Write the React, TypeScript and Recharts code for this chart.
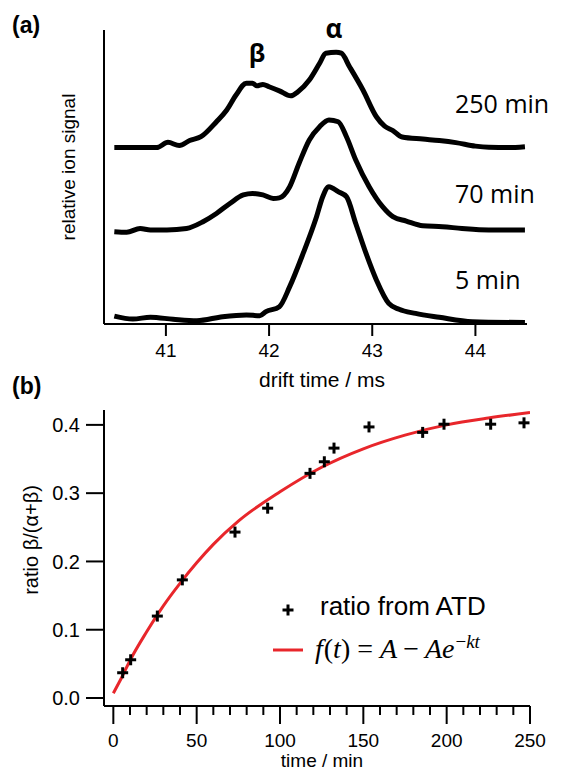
import React from "react";
import {
  LineChart,
  ComposedChart,
  Line,
  Scatter,
  XAxis,
  YAxis,
  Legend
} from "recharts";

// (a) arrival time distributions, one trace per storage time
const driftTime250 = [40.5, 40.91, 41.02, 41.13, 41.23, 41.34, 41.49, 41.59, 41.68, 41.78, 41.84, 41.88, 41.94, 42.0, 42.1, 42.21, 42.28, 42.39, 42.49, 42.55, 42.65, 42.7, 42.78, 42.91, 43.04, 43.12, 43.2, 43.29, 43.49, 43.65, 43.81, 44.0, 44.13, 44.32, 44.48];
const signal250 = [60.0, 60.0, 61.8, 60.7, 62.4, 63.7, 68.8, 72.8, 77.9, 81.9, 81.9, 81.0, 81.5, 80.7, 79.3, 77.6, 79.0, 83.0, 88.7, 92.1, 92.4, 92.1, 87.5, 79.6, 70.5, 67.3, 65.8, 63.6, 62.9, 62.4, 61.7, 60.5, 60.1, 60.0, 60.3];

const driftTime70 = [40.5, 40.62, 40.75, 40.85, 41.01, 41.2, 41.36, 41.49, 41.62, 41.75, 41.84, 41.94, 42.04, 42.1, 42.2, 42.29, 42.39, 42.49, 42.58, 42.67, 42.75, 42.84, 42.97, 43.1, 43.2, 43.33, 43.49, 43.68, 43.87, 44.13, 44.48];
const signal70 = [31.4, 31.2, 32.5, 32.0, 32.0, 32.5, 34.8, 37.6, 41.0, 43.9, 44.4, 43.9, 42.7, 42.9, 46.7, 54.6, 62.6, 67.1, 69.4, 68.8, 63.7, 55.8, 46.7, 39.9, 36.5, 35.0, 33.4, 33.1, 32.5, 32.0, 32.0];

const driftTime5 = [40.5, 40.68, 40.85, 41.07, 41.3, 41.55, 41.78, 41.91, 41.97, 42.1, 42.2, 42.33, 42.46, 42.52, 42.58, 42.67, 42.75, 42.84, 42.94, 43.04, 43.16, 43.26, 43.42, 43.65, 43.97, 44.48];
const signal5 = [2.7, 1.7, 2.3, 1.6, 1.1, 2.5, 3.1, 2.8, 4.2, 5.9, 12.7, 24.0, 36.5, 43.3, 46.7, 45.0, 43.3, 34.2, 24.0, 15.0, 7.0, 5.0, 3.6, 2.3, 0.8, 0.5];

const driftTicks = [41, 42, 43, 44];

// (b) beta fraction vs time
const sampleTime = [5.6, 10.4, 26.4, 41.4, 73.0, 92.6, 118.0, 126.6, 132.4, 153.4, 185.6, 198.4, 226.4, 246.4];
const ratioATD = [0.037, 0.056, 0.12, 0.173, 0.243, 0.278, 0.329, 0.346, 0.366, 0.397, 0.389, 0.401, 0.401, 0.403];

const fitTime = [0, 5, 10, 20, 30, 40, 50, 60, 75, 100, 125, 150, 175, 200, 225, 250];
const fitRatio = [0.007, 0.03, 0.055, 0.097, 0.135, 0.168, 0.198, 0.225, 0.259, 0.302, 0.338, 0.365, 0.385, 0.4, 0.41, 0.418];

const timeMajorTicks = [0, 50, 100, 150, 200, 250];
const timeMinorTicks = [10, 20, 30, 40, 60, 70, 80, 90, 110, 120, 130, 140, 160, 170, 180, 190, 210, 220, 230, 240];
const ratioTicks = [0, 0.1, 0.2, 0.3, 0.4];

const SANS = "'Liberation Sans', Arial, Helvetica, sans-serif";
const SERIF = "'Liberation Serif', 'Times New Roman', serif";
const RED = "#e8262b";

const toRows = (xs: number[], ys: number[]) => xs.map((x, i) => ({ x, y: ys[i] }));
const trace250 = toRows(driftTime250, signal250);
const trace70 = toRows(driftTime70, signal70);
const trace5 = toRows(driftTime5, signal5);
const points = toRows(sampleTime, ratioATD);
const fitRows = toRows(fitTime, fitRatio);

const PlusMark = (props: any) => {
  const { cx, cy } = props;
  if (cx == null || cy == null) return null;
  const h = 5.5;
  return (
    <g stroke="#000" strokeWidth={3}>
      <line x1={cx - h} y1={cy} x2={cx + h} y2={cy} />
      <line x1={cx} y1={cy - h} x2={cx} y2={cy + h} />
    </g>
  );
};

const TimeTick = (props: any) => {
  const { x, y, payload } = props;
  const major = timeMajorTicks.includes(payload.value);
  return (
    <g>
      <line x1={x} y1={y} x2={x} y2={y + (major ? 18 : 9)} stroke="#000" strokeWidth={2} />
      {major && (
        <text x={x} y={y + 41} textAnchor="middle" fontSize={19} fontFamily={SANS} fill="#000">
          {payload.value}
        </text>
      )}
    </g>
  );
};

const FitLegend = () => (
  <svg width={260} height={80} style={{ display: "block" }}>
    <PlusMark cx={18} cy={20} />
    <text x={50} y={25} fontSize={26} fontFamily={SANS} fill="#000">
      ratio from ATD
    </text>
    <line x1={3} y1={60} x2={33} y2={60} stroke={RED} strokeWidth={3} />
    <text x={45} y={68} fontSize={28} fontFamily={SERIF} fill="#000">
      <tspan fontStyle="italic">f</tspan>
      <tspan dx={1}>(</tspan>
      <tspan fontStyle="italic">t</tspan>
      <tspan>)</tspan>
      <tspan dx={7}>=</tspan>
      <tspan dx={7} fontStyle="italic">A</tspan>
      <tspan dx={6}>−</tspan>
      <tspan dx={6} fontStyle="italic">Ae</tspan>
      <tspan fontSize={19} dy={-10} dx={1}>−</tspan>
      <tspan fontSize={19} fontStyle="italic">kt</tspan>
    </text>
  </svg>
);

export default function App() {
  const axisLine = { stroke: "#000", strokeWidth: 2 };
  return (
    <div style={{ position: "absolute", left: 0, top: 0, width: 563, height: 773, background: "#fff" }}>
      <div style={{ position: "absolute", left: 0, top: 0 }}>
        <LineChart width={563} height={400} margin={{ top: 30, right: 36, bottom: 0, left: 0 }}>
          <XAxis
            dataKey="x"
            type="number"
            domain={[40.4, 44.5]}
            ticks={driftTicks}
            interval={0}
            allowDataOverflow
            height={76}
            axisLine={axisLine}
            tickLine={{ stroke: "#000", strokeWidth: 2 }}
            tickSize={12}
            tickMargin={8}
            tick={{ fill: "#000", fontSize: 19, fontFamily: SANS }}
          />
          <YAxis
            type="number"
            domain={[0, 100]}
            width={104}
            tick={false}
            tickLine={false}
            axisLine={axisLine}
          />
          {[trace250, trace70, trace5].map((rows, i) => (
            <Line
              key={i}
              data={rows}
              dataKey="y"
              type="monotone"
              stroke="#000"
              strokeWidth={5}
              strokeLinejoin="round"
              dot={false}
              isAnimationActive={false}
            />
          ))}
        </LineChart>
      </div>

      <div style={{ position: "absolute", left: 0, top: 385 }}>
        <ComposedChart width={563} height={388} margin={{ top: 25, right: 33, bottom: 0, left: 0 }}>
          <XAxis
            dataKey="x"
            type="number"
            domain={[-5.6, 250]}
            ticks={[...timeMajorTicks, ...timeMinorTicks].sort((a, b) => a - b)}
            interval={0}
            allowDataOverflow
            height={67}
            axisLine={axisLine}
            tickLine={false}
            tickSize={0}
            tickMargin={0}
            tick={<TimeTick />}
          />
          <YAxis
            type="number"
            domain={[-0.0117, 0.4218]}
            ticks={ratioTicks}
            interval={0}
            allowDataOverflow
            width={104}
            axisLine={axisLine}
            tickLine={{ stroke: "#000", strokeWidth: 2 }}
            tickSize={18}
            tickMargin={6}
            tickFormatter={(v: number) => v.toFixed(1)}
            tick={{ fill: "#000", fontSize: 20, fontFamily: SANS }}
          />
          <Line
            data={fitRows}
            dataKey="y"
            type="monotone"
            stroke={RED}
            strokeWidth={3}
            dot={false}
            isAnimationActive={false}
          />
          <Scatter data={points} dataKey="y" shape={<PlusMark />} isAnimationActive={false} />
          <Legend
            layout="vertical"
            align="center"
            verticalAlign="middle"
            content={() => <FitLegend />}
            wrapperStyle={{ left: 270, top: 205, width: 260, height: 80 }}
          />
        </ComposedChart>
      </div>

      <svg width={563} height={773} style={{ position: "absolute", left: 0, top: 0, pointerEvents: "none" }}>
        <g fontFamily={SANS} fill="#000">
          <text x={12} y={33} fontSize={23} fontWeight="bold">(a)</text>
          <text x={12} y={394} fontSize={23} fontWeight="bold">(b)</text>
          <text x={75} y={167} fontSize={19} textAnchor="middle" transform="rotate(-90 75 167)">
            relative ion signal
          </text>
          <text x={322} y={387} fontSize={21} textAnchor="middle">drift time / ms</text>
          <text x={38} y={540} fontSize={20} textAnchor="middle" transform="rotate(-90 38 540)">
            ratio β/(α+β)
          </text>
          <text x={322} y={767} fontSize={19} textAnchor="middle">time / min</text>
        </g>
        <g fontFamily="'Open Sans', sans-serif" fill="#000">
          <text x={257} y={62} fontSize={25} fontWeight="bold" textAnchor="middle">β</text>
          <text x={334} y={38} fontSize={26} fontWeight="bold" textAnchor="middle">α</text>
          <text x={455} y={113} fontSize={25}>250 min</text>
          <text x={455} y={203} fontSize={25}>70 min</text>
          <text x={455} y={289} fontSize={25}>5 min</text>
        </g>
      </svg>
    </div>
  );
}
